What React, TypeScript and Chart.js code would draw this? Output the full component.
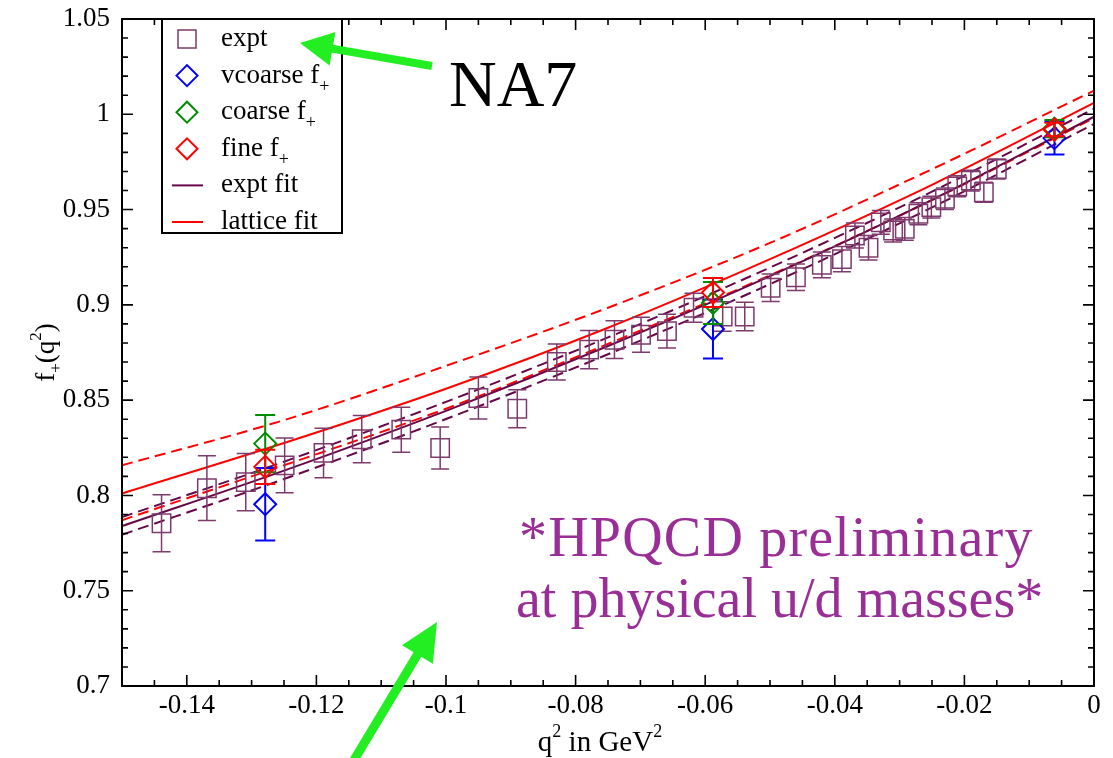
import React, { useEffect, useRef } from "react";
import { Chart, registerables } from "chart.js";

Chart.register(...registerables);

// ---------------- data ----------------
const exptQ2 = [
  -0.1439, -0.1369, -0.1309, -0.1249, -0.1189, -0.113, -0.1069, -0.1009, -0.095, -0.089,
  -0.0829, -0.0779, -0.074, -0.0699, -0.0659, -0.0618, -0.0573, -0.0539, -0.0499, -0.046,
  -0.042, -0.0389, -0.0369, -0.0348, -0.0329, -0.031, -0.0292, -0.0271, -0.0251, -0.023,
  -0.0211, -0.019, -0.017, -0.015,
];
const exptF = [
  0.7854, 0.8038, 0.807, 0.8158, 0.8223, 0.8295, 0.8345, 0.8249, 0.8511, 0.8455,
  0.87, 0.8765, 0.8817, 0.8843, 0.8862, 0.8985, 0.8939, 0.8939, 0.909, 0.9145,
  0.921, 0.924, 0.9364, 0.93, 0.9433, 0.939, 0.9399, 0.9478, 0.9513, 0.9557,
  0.9622, 0.9652, 0.9591, 0.9713,
];
const exptErr = [
  0.015, 0.017, 0.015, 0.0144, 0.013, 0.0124, 0.0118, 0.011, 0.011, 0.01,
  0.0094, 0.01, 0.0099, 0.0092, 0.0089, 0.0076, 0.0077, 0.0075, 0.0072, 0.007,
  0.0068, 0.0066, 0.0065, 0.0064, 0.0062, 0.006, 0.006, 0.0058, 0.0057, 0.0056,
  0.0055, 0.0054, 0.0053, 0.0052,
];

const latticeQ2 = [-0.1279, -0.0588, -0.0061];
const vcoarseF = [0.7954, 0.8873, 0.9875];
const vcoarseErr = [0.019, 0.0155, 0.0086];
const coarseF = [0.8272, 0.901, 0.9925];
const coarseErr = [0.015, 0.011, 0.0045];
const fineF = [0.815, 0.9065, 0.992];
const fineErr = [0.009, 0.0076, 0.0035];

const fitQ2 = [-0.15, -0.125, -0.1, -0.075, -0.05, -0.025, 0];
const exptFit = [0.7839, 0.813, 0.8444, 0.8784, 0.9151, 0.9551, 0.9987];
const exptFitHi = [0.7886, 0.8177, 0.8491, 0.8829, 0.9196, 0.9594, 1.0029];
const exptFitLo = [0.7794, 0.8086, 0.8401, 0.8741, 0.9109, 0.9511, 0.9949];
const latticeFit = [0.801, 0.8275, 0.856, 0.888, 0.924, 0.963, 1.006];
const latticeFitHi = [0.8158, 0.8395, 0.868, 0.8985, 0.9325, 0.9712, 1.0124];
const latticeFitLo = [0.787, 0.8158, 0.8455, 0.8795, 0.9155, 0.955, 0.998];

const xTickValues = [-0.14, -0.12, -0.1, -0.08, -0.06, -0.04, -0.02, 0];
const xTickLabels = ["-0.14", "-0.12", "-0.1", "-0.08", "-0.06", "-0.04", "-0.02", "0"];
const yTickValues = [0.7, 0.75, 0.8, 0.85, 0.9, 0.95, 1, 1.05];
const yTickLabels = ["0.7", "0.75", "0.8", "0.85", "0.9", "0.95", "1", "1.05"];

const legendLabels = ["expt", "vcoarse f", "coarse f", "fine f", "expt fit", "lattice fit"];
const legendSubs = ["", "+", "+", "+", "", ""];

// ---------------- styles ----------------
const SERIF = "'Liberation Serif', 'Times New Roman', Times, serif";
const C_EXPT = "#7d3a6c";
const C_EXPTFIT = "#670748";
const C_BLUE = "#0000ff";
const C_GREEN = "#008b00";
const C_RED = "#ff0000";
const C_ARROW = "#22ee22";
const C_NOTE = "#9a2e97";

const pts = (xs: number[], ys: number[]) => xs.map((x, i) => ({ x, y: ys[i] }));

type Seg = { t: string; size: number; dy: number };
function richWidth(ctx: CanvasRenderingContext2D, segs: Seg[]) {
  let w = 0;
  for (const s of segs) {
    ctx.font = `${s.size}px ${SERIF}`;
    w += ctx.measureText(s.t).width;
  }
  return w;
}
function drawRich(ctx: CanvasRenderingContext2D, segs: Seg[], x: number, y: number) {
  let cx = x;
  for (const s of segs) {
    ctx.font = `${s.size}px ${SERIF}`;
    ctx.fillText(s.t, cx, y + s.dy);
    cx += ctx.measureText(s.t).width;
  }
}
function drawArrow(
  ctx: CanvasRenderingContext2D,
  tx: number, ty: number, hx: number, hy: number,
  shaft: number, headLen: number, headHalf: number
) {
  const dx = hx - tx, dy = hy - ty;
  const L = Math.hypot(dx, dy);
  const ux = dx / L, uy = dy / L;
  const nx = -uy, ny = ux;
  const bx = hx - ux * headLen, by = hy - uy * headLen;
  ctx.save();
  ctx.strokeStyle = C_ARROW;
  ctx.fillStyle = C_ARROW;
  ctx.lineWidth = shaft;
  ctx.lineCap = "butt";
  ctx.beginPath();
  ctx.moveTo(tx, ty);
  ctx.lineTo(bx + ux * 2, by + uy * 2);
  ctx.stroke();
  ctx.beginPath();
  ctx.moveTo(hx, hy);
  ctx.lineTo(bx + nx * headHalf, by + ny * headHalf);
  ctx.lineTo(bx - nx * headHalf, by - ny * headHalf);
  ctx.closePath();
  ctx.fill();
  ctx.restore();
}

// error bars drawn right after each dataset
const errorBarPlugin = {
  id: "errorBars",
  afterDatasetDraw(chart: any, args: any) {
    const ds = chart.data.datasets[args.index];
    if (!ds.yErr) return;
    const meta = chart.getDatasetMeta(args.index);
    const ys = chart.scales.y;
    const ctx: CanvasRenderingContext2D = chart.ctx;
    const cap = ds.capHalf || 9;
    ctx.save();
    ctx.strokeStyle = ds.pointBorderColor;
    ctx.lineWidth = ds.errWidth || 1.5;
    ctx.beginPath();
    meta.data.forEach((el: any, i: number) => {
      const d = ds.data[i];
      const e = ds.yErr[i];
      const x = el.x;
      const yt = ys.getPixelForValue(d.y + e);
      const yb = ys.getPixelForValue(d.y - e);
      ctx.moveTo(x, yt);
      ctx.lineTo(x, yb);
      ctx.moveTo(x - cap, yt);
      ctx.lineTo(x + cap, yt);
      ctx.moveTo(x - cap, yb);
      ctx.lineTo(x + cap, yb);
    });
    ctx.stroke();
    ctx.restore();
  },
};

// frame, inward ticks, axis titles, legend, annotations
const overlayPlugin = {
  id: "overlay",
  afterDraw(chart: any) {
    const ctx: CanvasRenderingContext2D = chart.ctx;
    const a = chart.chartArea;
    const xs = chart.scales.x;
    const ys = chart.scales.y;
    ctx.save();

    // ticks
    ctx.strokeStyle = "#000";
    ctx.lineWidth = 1.6;
    ctx.beginPath();
    for (let k = 1; k < 30; k++) {
      const v = -0.15 + k * 0.005;
      const major = Math.round(v * 1000) % 20 === 0;
      const len = major ? 11 : 6;
      const px = xs.getPixelForValue(v);
      ctx.moveTo(px, a.bottom);
      ctx.lineTo(px, a.bottom - len);
      ctx.moveTo(px, a.top);
      ctx.lineTo(px, a.top + len);
    }
    for (let k = 1; k < 35; k++) {
      const v = 0.7 + k * 0.01;
      const major = k % 5 === 0;
      const len = major ? 11 : 6;
      const py = ys.getPixelForValue(v);
      ctx.moveTo(a.left, py);
      ctx.lineTo(a.left + len, py);
      ctx.moveTo(a.right, py);
      ctx.lineTo(a.right - len, py);
    }
    ctx.stroke();

    // frame
    ctx.lineWidth = 2;
    ctx.strokeRect(a.left, a.top, a.right - a.left, a.bottom - a.top);

    // axis titles
    ctx.fillStyle = "#000";
    ctx.textBaseline = "alphabetic";
    ctx.textAlign = "left";
    const xt: Seg[] = [
      { t: "q", size: 29, dy: 0 },
      { t: "2", size: 18, dy: -14 },
      { t: " in GeV", size: 29, dy: 0 },
      { t: "2", size: 18, dy: -14 },
    ];
    const xw = richWidth(ctx, xt);
    drawRich(ctx, xt, (a.left + a.right) / 2 - xw / 2 - 8, 751);

    const yt: Seg[] = [
      { t: "f", size: 27, dy: 0 },
      { t: "+", size: 17, dy: 7 },
      { t: "(q", size: 27, dy: 0 },
      { t: "2", size: 17, dy: -13 },
      { t: ")", size: 27, dy: 0 },
    ];
    const yw = richWidth(ctx, yt);
    ctx.save();
    ctx.translate(54, (a.top + a.bottom) / 2);
    ctx.rotate(-Math.PI / 2);
    drawRich(ctx, yt, -yw / 2, 0);
    ctx.restore();

    // legend
    const lx = a.left + 40;
    const ly = a.top;
    ctx.fillStyle = "#fff";
    ctx.fillRect(lx, ly, 180, 214);
    ctx.strokeStyle = "#000";
    ctx.lineWidth = 2;
    ctx.strokeRect(lx, ly, 180, 214);
    const symX = lx + 25;
    const txtX = lx + 59;
    const rowColors = [C_EXPT, C_BLUE, C_GREEN, C_RED, C_EXPTFIT, C_RED];
    legendLabels.forEach((lab, i) => {
      const cy = ly + 20 + i * 36.6;
      ctx.strokeStyle = rowColors[i];
      ctx.lineWidth = i === 0 ? 1.5 : 2;
      ctx.beginPath();
      if (i === 0) {
        ctx.rect(symX - 9, cy - 9, 18, 18);
      } else if (i < 4) {
        ctx.moveTo(symX - 10.5, cy);
        ctx.lineTo(symX, cy - 10.5);
        ctx.lineTo(symX + 10.5, cy);
        ctx.lineTo(symX, cy + 10.5);
        ctx.closePath();
      } else {
        ctx.moveTo(symX - 15, cy);
        ctx.lineTo(symX + 16, cy);
      }
      ctx.stroke();
      ctx.fillStyle = "#000";
      const segs: Seg[] = [{ t: lab, size: 27, dy: 0 }];
      if (legendSubs[i]) segs.push({ t: legendSubs[i], size: 18, dy: 9 });
      drawRich(ctx, segs, txtX, cy + 7);
    });

    // annotations
    ctx.fillStyle = "#000";
    ctx.font = `66px ${SERIF}`;
    ctx.fillText("NA7", 449, 106);

    ctx.fillStyle = C_NOTE;
    ctx.font = `56px ${SERIF}`;
    ctx.textAlign = "left";
    (ctx as any).letterSpacing = "1.2px";
    ctx.fillText("*HPQCD preliminary", 519, 556);
    (ctx as any).letterSpacing = "0px";
    ctx.fillText("at physical u/d masses*", 516, 617);

    // arrows
    drawArrow(ctx, 432, 66, 300, 43, 8, 33, 17);
    drawArrow(ctx, 345, 775, 437, 622, 9, 38, 18);

    ctx.restore();
  },
};

export default function App() {
  const ref = useRef<HTMLCanvasElement>(null);
  useEffect(() => {
    if (!ref.current) return;
    const lineDs = (label: string, ys: number[], color: string, dashed: boolean) => ({
      label,
      data: pts(fitQ2, ys),
      showLine: true,
      pointRadius: 0,
      borderColor: color,
      borderWidth: 2,
      borderDash: dashed ? [11, 6] : [],
      cubicInterpolationMode: "monotone",
      fill: false,
      order: 10,
    });
    const pointDs = (
      label: string, xs: number[], ys: number[], err: number[], color: string,
      style: string, radius: number, width: number, cap: number, order: number
    ) => ({
      label,
      data: pts(xs, ys),
      yErr: err,
      capHalf: cap,
      errWidth: width,
      showLine: false,
      pointStyle: style,
      pointRadius: radius,
      pointHoverRadius: radius,
      pointBorderColor: color,
      pointBackgroundColor: "rgba(0,0,0,0)",
      pointBorderWidth: width,
      borderColor: color,
      order,
    });

    const chart = new Chart(ref.current, {
      type: "scatter",
      data: {
        datasets: [
          pointDs("expt", exptQ2, exptF, exptErr, C_EXPT, "rect", 13, 1.5, 9, 5),
          pointDs("vcoarse f+", latticeQ2, vcoarseF, vcoarseErr, C_BLUE, "rectRot", 11, 2, 10, 3),
          pointDs("coarse f+", latticeQ2, coarseF, coarseErr, C_GREEN, "rectRot", 11, 2, 10, 2),
          pointDs("fine f+", latticeQ2, fineF, fineErr, C_RED, "rectRot", 11, 2, 10, 1),
          lineDs("expt fit", exptFit, C_EXPTFIT, false),
          lineDs("expt fit +", exptFitHi, C_EXPTFIT, true),
          lineDs("expt fit -", exptFitLo, C_EXPTFIT, true),
          lineDs("lattice fit", latticeFit, C_RED, false),
          lineDs("lattice fit +", latticeFitHi, C_RED, true),
          lineDs("lattice fit -", latticeFitLo, C_RED, true),
        ] as any,
      },
      options: {
        animation: false,
        responsive: false,
        events: [],
        layout: { padding: { top: 19, right: 19, left: 0, bottom: 0 } },
        plugins: { legend: { display: false }, tooltip: { enabled: false } },
        scales: {
          x: {
            type: "linear",
            min: -0.15,
            max: 0,
            grid: { display: false, drawTicks: false },
            border: { display: false },
            ticks: {
              color: "#000",
              font: { family: SERIF, size: 27 },
              padding: 4,
              maxRotation: 0,
              autoSkip: false,
              callback: (_v: any, i: number) => xTickLabels[i],
            },
            afterBuildTicks: (s: any) => {
              s.ticks = xTickValues.map((value) => ({ value }));
            },
            afterFit: (s: any) => {
              s.height = 72;
              s.paddingLeft = 0;
              s.paddingRight = 0;
            },
          },
          y: {
            type: "linear",
            min: 0.7,
            max: 1.05,
            grid: { display: false, drawTicks: false },
            border: { display: false },
            ticks: {
              color: "#000",
              font: { family: SERIF, size: 27 },
              padding: 12,
              autoSkip: false,
              callback: (_v: any, i: number) => yTickLabels[i],
            },
            afterBuildTicks: (s: any) => {
              s.ticks = yTickValues.map((value) => ({ value }));
            },
            afterFit: (s: any) => {
              s.width = 122;
              s.paddingTop = 0;
              s.paddingBottom = 0;
            },
          },
        },
      } as any,
      plugins: [errorBarPlugin, overlayPlugin],
    });
    return () => chart.destroy();
  }, []);

  return (
    <div style={{ position: "fixed", left: 0, top: 0, width: 1113, height: 758, background: "#fff" }}>
      <canvas ref={ref} width={1113} height={758} style={{ display: "block" }} />
    </div>
  );
}
